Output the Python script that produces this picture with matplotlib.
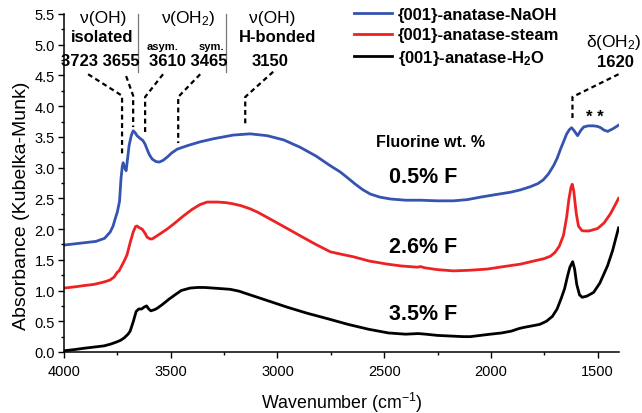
import matplotlib
matplotlib.use("Agg")
import matplotlib.pyplot as plt
from matplotlib.lines import Line2D

plt.rcParams['font.family'] = ['Liberation Sans', 'DejaVu Sans']
plt.rcParams['mathtext.fontset'] = 'custom'
plt.rcParams['mathtext.rm'] = 'Liberation Sans'
plt.rcParams['mathtext.it'] = 'Liberation Sans'
plt.rcParams['mathtext.bf'] = 'Liberation Sans:bold'

# ---------------- data ----------------
naoh_wn = [4000, 3950, 3900, 3850, 3810, 3784, 3770, 3761, 3750, 3740, 3733, 3727, 3723,
           3716, 3709, 3702, 3695, 3685, 3676, 3667, 3658, 3645, 3630, 3620, 3611, 3600,
           3587, 3570, 3554, 3535, 3517, 3495, 3470, 3420, 3362, 3300, 3207, 3128, 3048,
           2970, 2893, 2820, 2752, 2706, 2670, 2635, 2600, 2565, 2520, 2471, 2400, 2330,
           2250, 2175, 2110, 2049, 1980, 1908, 1860, 1815, 1780, 1755, 1730, 1707, 1690,
           1674, 1660, 1645, 1632, 1622, 1610, 1594, 1580, 1566, 1545, 1519, 1500, 1486,
           1470, 1453, 1430, 1402]
naoh_abs = [1.74, 1.76, 1.78, 1.80, 1.85, 1.95, 2.05, 2.16, 2.28, 2.45, 2.82, 3.02, 3.08,
            3.00, 2.95, 3.15, 3.36, 3.52, 3.60, 3.57, 3.52, 3.48, 3.44, 3.38, 3.30, 3.21,
            3.14, 3.10, 3.09, 3.12, 3.17, 3.24, 3.30, 3.36, 3.42, 3.47, 3.53, 3.55, 3.52,
            3.45, 3.33, 3.19, 3.03, 2.93, 2.83, 2.73, 2.64, 2.57, 2.52, 2.49, 2.47, 2.47,
            2.46, 2.46, 2.48, 2.52, 2.56, 2.60, 2.64, 2.69, 2.74, 2.80, 2.90, 3.03, 3.15,
            3.30, 3.42, 3.55, 3.62, 3.65, 3.60, 3.52, 3.60, 3.66, 3.68, 3.68, 3.67, 3.65,
            3.61, 3.59, 3.63, 3.69]

steam_wn = [4000, 3950, 3908, 3860, 3812, 3785, 3765, 3750, 3742, 3730, 3718, 3705, 3690,
            3676, 3665, 3658, 3646, 3634, 3620, 3611, 3597, 3587, 3560, 3517, 3480, 3442,
            3400, 3362, 3329, 3280, 3240, 3207, 3170, 3128, 3090, 3048, 2970, 2893, 2820,
            2752, 2700, 2645, 2570, 2486, 2420, 2345, 2330, 2310, 2250, 2175, 2100, 2016,
            1940, 1861, 1800, 1750, 1721, 1700, 1680, 1660, 1645, 1635, 1625, 1619, 1612,
            1600, 1590, 1575, 1566, 1540, 1500, 1470, 1440, 1420, 1402]
steam_abs = [1.04, 1.06, 1.08, 1.10, 1.14, 1.17, 1.22, 1.30, 1.32, 1.40, 1.48, 1.58, 1.78,
             1.95, 2.04, 2.05, 2.02, 2.00, 1.93, 1.87, 1.84, 1.84, 1.90, 2.00, 2.10, 2.21,
             2.32, 2.40, 2.44, 2.44, 2.43, 2.41, 2.38, 2.33, 2.27, 2.19, 2.04, 1.89, 1.75,
             1.63, 1.59, 1.55, 1.48, 1.43, 1.40, 1.38, 1.39, 1.37, 1.34, 1.32, 1.33, 1.35,
             1.39, 1.43, 1.48, 1.52, 1.56, 1.62, 1.72, 1.90, 2.20, 2.48, 2.68, 2.73, 2.62,
             2.25, 2.05, 1.98, 1.97, 1.97, 2.01, 2.10, 2.25, 2.38, 2.50]

h2o_wn = [4000, 3950, 3908, 3860, 3812, 3780, 3756, 3735, 3718, 3700, 3690, 3675, 3662,
          3650, 3636, 3625, 3613, 3603, 3593, 3575, 3564, 3540, 3508, 3480, 3451, 3410,
          3376, 3341, 3300, 3260, 3221, 3180, 3146, 3050, 2955, 2860, 2763, 2670, 2573,
          2480, 2400, 2340, 2306, 2250, 2190, 2130, 2096, 2050, 2002, 1950, 1904, 1870,
          1846, 1800, 1771, 1740, 1712, 1690, 1670, 1655, 1640, 1630, 1617, 1608, 1598,
          1585, 1572, 1550, 1519, 1490, 1454, 1430, 1415, 1402]
h2o_abs = [0.02, 0.04, 0.06, 0.08, 0.10, 0.13, 0.16, 0.19, 0.23, 0.29, 0.34, 0.50, 0.66,
           0.70, 0.70, 0.73, 0.75, 0.70, 0.67, 0.69, 0.71, 0.77, 0.86, 0.93, 1.00, 1.04,
           1.05, 1.05, 1.04, 1.03, 1.02, 0.99, 0.95, 0.84, 0.73, 0.63, 0.54, 0.45, 0.37,
           0.31, 0.29, 0.30, 0.29, 0.27, 0.26, 0.25, 0.25, 0.27, 0.29, 0.31, 0.34, 0.38,
           0.40, 0.43, 0.45, 0.50, 0.58, 0.70, 0.88, 1.03, 1.25, 1.38, 1.47, 1.35, 1.10,
           0.93, 0.89, 0.91, 0.97, 1.12, 1.40, 1.65, 1.85, 2.02]

series_labels = ['{001}-anatase-NaOH', '{001}-anatase-steam', '{001}-anatase-H$_\\mathbf{2}$O']
series_colors = ['#3553B0', '#EE2222', '#000000']
fluorine_labels = ['0.5% F', '2.6% F', '3.5% F']

x_ticks = [4000, 3500, 3000, 2500, 2000, 1500]
y_ticks = [0.0, 0.5, 1.0, 1.5, 2.0, 2.5, 3.0, 3.5, 4.0, 4.5, 5.0, 5.5]

# ---------------- figure ----------------
fig = plt.figure(figsize=(6.42, 4.14), dpi=100)
ax = fig.add_axes([64 / 642, 61 / 414, (619 - 64) / 642, (353 - 15) / 414])

for wn, ab, c in zip([naoh_wn, steam_wn, h2o_wn], [naoh_abs, steam_abs, h2o_abs], series_colors):
    ax.plot(wn, ab, color=c, lw=2.0, solid_joinstyle='round')

ax.set_xlim(4000, 1400)
ax.set_ylim(0, 5.5)
ax.set_xticks(x_ticks)
ax.set_xticklabels([str(t) for t in x_ticks])
ax.set_xticks([3750, 3250, 2750, 2250, 1750], minor=True)
ax.set_yticks(y_ticks)
ax.set_yticklabels([f'{t:.1f}' for t in y_ticks])
ax.set_yticks([0.25 + 0.5 * i for i in range(11)], minor=True)
ax.tick_params(which='major', direction='out', length=4.5, width=1.0, labelsize=10.5)
ax.tick_params(axis='x', which='major', pad=4)
ax.tick_params(axis='y', which='major', pad=2)
ax.tick_params(which='minor', direction='out', length=2.2, width=1.0)
for s in ['top', 'right']:
    ax.spines[s].set_visible(False)
for s in ['left', 'bottom']:
    ax.spines[s].set_linewidth(1.1)

ax.set_xlabel('Wavenumber (cm$^{-1}$)', fontsize=12.8)
ax.set_ylabel('Absorbance (Kubelka-Munk)', fontsize=14)
ax.xaxis.label.set_va('center')
ax.xaxis.set_label_coords(0.5, (353 - 403) / 338)
ax.yaxis.label.set_va('center')
ax.yaxis.set_label_coords((22 - 64) / 555, (353 - 206) / 338)

# legend
handles = [Line2D([], [], color=c, lw=2.0) for c in series_colors]
fig.legend(handles, series_labels, loc='upper left', bbox_to_anchor=(354 / 642, 1 - 8 / 414),
           frameon=False, prop={'weight': 'bold', 'size': 12}, handlelength=2.3,
           handletextpad=0.35, labelspacing=0.32, borderpad=0, borderaxespad=0)

# annotation texts (x in cm-1, y in absorbance units)
ann_texts = [
    ('ν(OH)', 3817, 5.45, 12.5, 'normal'),
    ('isolated', 3822, 5.14, 12, 'bold'),
    ('3723 3655', 3828, 4.74, 12, 'bold'),
    ('ν(OH$_2$)', 3418, 5.45, 12.5, 'normal'),
    ('asym.', 3536, 4.98, 8, 'bold'),
    ('sym.', 3311, 4.98, 8, 'bold'),
    ('3610 3465', 3418, 4.74, 12, 'bold'),
    ('ν(OH)', 3025, 5.45, 12.5, 'normal'),
    ('H-bonded', 3001, 5.14, 12, 'bold'),
    ('3150', 3034, 4.74, 12, 'bold'),
    ('δ(OH$_2$)', 1425, 5.06, 12.5, 'normal'),
    ('1620', 1416, 4.72, 12, 'bold'),
    ('Fluorine wt. %', 2284, 3.42, 11.5, 'bold'),
    ('* *', 1515, 3.83, 12, 'bold'),
]
for t, x, y, fs, w in ann_texts:
    ax.text(x, y, t, fontsize=fs, fontweight=w, ha='center', va='center', clip_on=False)

fl_pos = [(2316, 2.85), (2316, 1.71), (2316, 0.62)]
for lab, (x, y) in zip(fluorine_labels, fl_pos):
    ax.text(x, y, lab, fontsize=15.5, fontweight='bold', ha='center', va='center')

# separators between annotation groups
for xs in [3653, 3240]:
    ax.plot([xs, xs], [4.55, 5.5], color='#777777', lw=0.9, clip_on=False)

# dashed leader lines
leaders = [
    ([3887, 3728, 3728], [4.52, 4.17, 3.19]),
    ([3709, 3676, 3676], [4.49, 4.17, 3.66]),
    ([3536, 3620, 3620], [4.52, 4.15, 3.55]),
    ([3362, 3465, 3465], [4.52, 4.15, 3.40]),
    ([3020, 3151, 3151], [4.56, 4.15, 3.71]),
    ([1402, 1618, 1618], [4.52, 4.15, 3.79]),
]
for xs, ys in leaders:
    ax.plot(xs, ys, color='black', lw=1.6, ls=(0, (2.2, 1.6)), clip_on=False)

fig.savefig('out.png', dpi=100)
